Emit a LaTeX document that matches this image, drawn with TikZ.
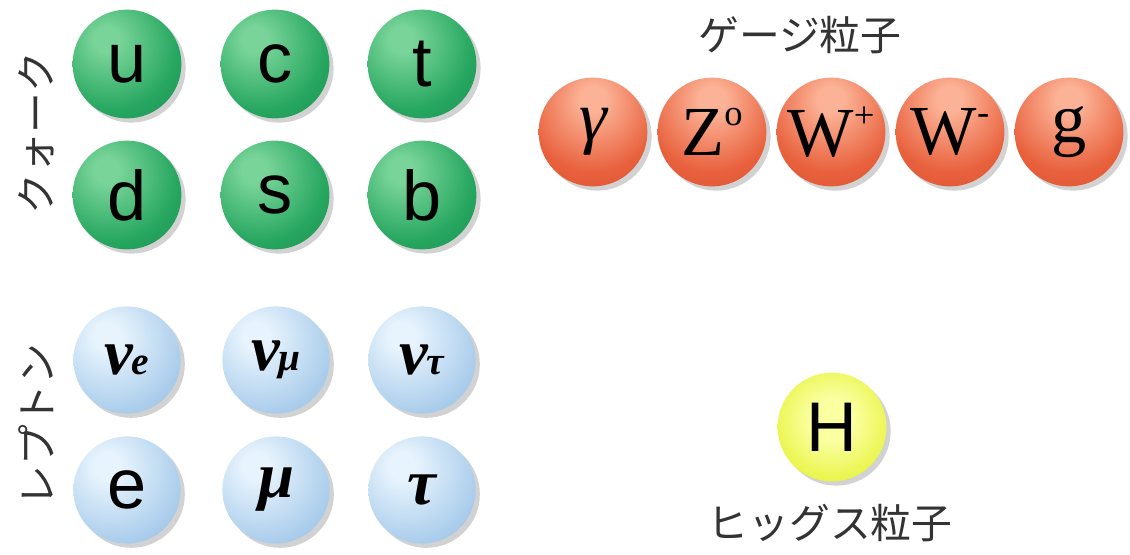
\documentclass[tikz,border=0pt]{standalone}
\usepackage{fontspec}
\setmainfont{Liberation Serif}
\setsansfont{Liberation Sans}
\newfontfamily\jpfont{Noto Sans CJK JP}
\usepackage{xcolor}
\usepackage{tikz}
\usetikzlibrary{positioning, shadows}

\definecolor{qkhi}{RGB}{120,212,152}
\definecolor{qk}{RGB}{38,166,96}
\definecolor{qkdk}{RGB}{22,128,68}
\definecolor{lphi}{RGB}{232,244,253}
\definecolor{lp}{RGB}{172,206,236}
\definecolor{lpdk}{RGB}{132,172,212}
\definecolor{gbhi}{RGB}{252,178,150}
\definecolor{gb}{RGB}{232,96,60}
\definecolor{gbdk}{RGB}{200,70,42}
\definecolor{hghi}{RGB}{250,255,160}
\definecolor{hg}{RGB}{226,240,32}
\definecolor{hgdk}{RGB}{196,210,20}

\pgfdeclareradialshading{quarkball}{\pgfpoint{-10bp}{12bp}}{color(0bp)=(qkhi); color(6bp)=(qkhi); color(30bp)=(qk); color(58bp)=(qkdk); color(100bp)=(qkdk)}
\pgfdeclareradialshading{leptonball}{\pgfpoint{-10bp}{12bp}}{color(0bp)=(lphi); color(6bp)=(lphi); color(32bp)=(lp); color(58bp)=(lpdk); color(100bp)=(lpdk)}
\pgfdeclareradialshading{gaugeball}{\pgfpoint{0bp}{16bp}}{color(0bp)=(gbhi); color(6bp)=(gbhi); color(30bp)=(gb); color(62bp)=(gbdk); color(100bp)=(gbdk)}
\pgfdeclareradialshading{higgsball}{\pgfpoint{0bp}{4bp}}{color(0bp)=(hghi); color(10bp)=(hghi); color(36bp)=(hg); color(58bp)=(hgdk); color(100bp)=(hgdk)}

\begin{document}
\begin{tikzpicture}[
    x=0.025cm, y=-0.025cm,
    ball/.style={circle, inner sep=0pt, minimum size=2.72cm, text=black,
        drop shadow={shadow xshift=3pt, shadow yshift=-3pt, opacity=0.25, fill=black!70}},
    quark/.style={ball, shading=quarkball, font=\sffamily\fontsize{50}{50}\selectfont},
    lepton/.style={ball, shading=leptonball, minimum size=2.68cm, font=\bfseries\itshape\fontsize{46}{46}\selectfont},
    gauge/.style={ball, shading=gaugeball, font=\fontsize{50}{50}\selectfont},
    higgs/.style={ball, shading=higgsball, font=\sffamily\fontsize{50}{50}\selectfont},
    group/.style={font=\jpfont\fontsize{29}{29}\selectfont, text=black!80}
]
\useasboundingbox (0,0) rectangle (1130,554);

% Quarks
\node[quark] (u) at (127,64) {u};
\node[quark] (c) at (275,64) {c};
\node[quark] (t) at (422,64) {t};
\node[quark] (d) at (127,195) {d};
\node[quark] (s) at (275,195) {s};
\node[quark] (b) at (422,195) {b};
\node[group, rotate=90] (quarks) at (36,133) {クォーク};

% Leptons
\node[lepton] (nue) at (127,360) {ν\kern-1pt{\fontsize{28}{28}\selectfont e}};
\node[lepton] (numu) at (276,360) {ν\kern-1pt{\fontsize{28}{28}\selectfont μ}};
\node[lepton] (nutau) at (422,360) {ν\kern-1pt{\fontsize{28}{28}\selectfont τ}};
\node[lepton, font=\sffamily\fontsize{50}{50}\selectfont] (e) at (127,490) {e};
\node[lepton] (mu) at (276,490) {μ};
\node[lepton] (tau) at (422,490) {τ};
\node[group, rotate=90] (leptons) at (36,425) {レプトン};

% Gauge bosons
\node[gauge] (gamma) at (593,132) {\itshape γ};
\node[gauge] (z) at (712,132) {Z\raisebox{0.42em}{\fontsize{26}{26}\selectfont o}};
\node[gauge] (wp) at (831,132) {W\raisebox{0.42em}{\fontsize{26}{26}\selectfont +}};
\node[gauge] (wm) at (950,132) {W\raisebox{0.42em}{\fontsize{26}{26}\selectfont -}};
\node[gauge] (g) at (1069,132) {g};
\node[group] (gauges) at (800,35) {ゲージ粒子};

% Higgs
\node[higgs] (h) at (832,427) {H};
\node[group] (higgslabel) at (830,523) {ヒッグス粒子};

\end{tikzpicture}
\end{document}
